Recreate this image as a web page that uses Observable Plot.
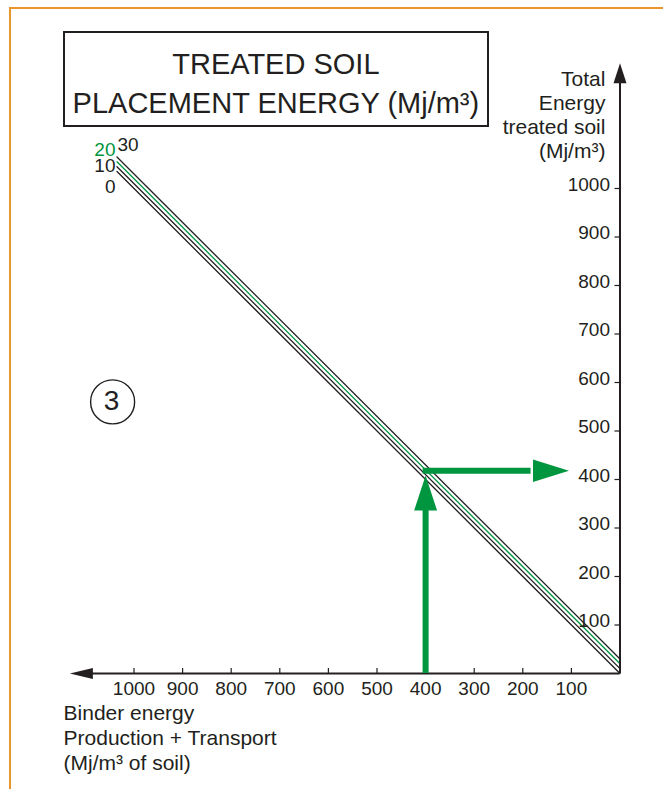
<!DOCTYPE html>
<html>
<head>
<meta charset="utf-8">
<script src="https://cdn.jsdelivr.net/npm/d3@7"></script>
<script src="https://cdn.jsdelivr.net/npm/@observablehq/plot@0.6"></script>
<style>
  html, body { margin: 0; padding: 0; background: #fff; }
  #wrap { position: relative; width: 663px; height: 789px; overflow: hidden;
          font-family: "Liberation Sans", Arial, sans-serif; color: #231f20; }
  #frame { position: absolute; left: 8.7px; top: 6.7px; width: 700px; height: 900px;
           border-top: 2.6px solid #e9962f; border-left: 2.6px solid #e9962f; }
  #title { position: absolute; left: 62.5px; top: 31px; width: 426.8px; height: 96.3px;
           box-sizing: border-box; border: 2.3px solid #231f20; padding-top: 12.2px;
           text-align: center; font-size: 29px; line-height: 39px; white-space: nowrap; background: #fff; }
  #chart { position: absolute; left: 0; top: 0; }
</style>
</head>
<body>
<div id="wrap">
  <div id="frame"></div>
  <div id="chart"></div>
  <div id="title">TREATED SOIL<br>PLACEMENT ENERGY (Mj/m³)</div>
</div>
<script>
// ---- data ----
const binderTicks = [100, 200, 300, 400, 500, 600, 700, 800, 900, 1000];
const totalTicks = [100, 200, 300, 400, 500, 600, 700, 800, 900, 1000];
const placementEnergy = [0, 10, 20, 30];          // Mj/m3 placement energy per line
const placementLabels = ["0", "10", "20", "30"];
const binderExtent = [0, 1035];                   // binder energy span of each line
const exampleBinder = 400;                        // worked example: binder energy
const exampleTotal = 418;                         // read total energy
const exampleArrowEnd = 105;                      // where the horizontal arrow ends (on the x scale)
const stepNumber = "3";
const yTitleLines = ["Total", "Energy", "treated soil", "(Mj/m³)"];
const xTitleLines = ["Binder energy", "Production + Transport", "(Mj/m³ of soil)"];

// ---- styling / layout ----
const INK = "#231f20";
const GREEN = "#00953f";
const lineColors = [INK, INK, GREEN, INK];
const labelColors = [INK, INK, GREEN, INK];
const labelLayout = [
  {anchor: "end", dx: -1.5, dy: 21},
  {anchor: "end", dx: -1.5, dy: 5.2},
  {anchor: "end", dx: -1.5, dy: -5.6},
  {anchor: "start", dx: 0.5, dy: -5.6}
];
const yAxisTip = 1258, xAxisTip = 1132;
const yTitlePos = {x: 30, y: 1062};
const xTitlePos = {x: 1145, y: -60};
const stepPos = {x: 1044, y: 560};

function arrowHead(len, half) {
  return {draw(ctx) { ctx.moveTo(0, 0); ctx.lineTo(-half, len); ctx.lineTo(half, len); ctx.closePath(); }};
}

const lineData = placementEnergy.map(c => binderExtent.map(b => ({binder: b, total: b + c})));

const marks = [
  // diagonal lines
  ...lineData.map((pts, i) => Plot.line(pts, {x: "binder", y: "total", stroke: lineColors[i], strokeWidth: 1.3})),
  // line labels
  ...placementEnergy.map((c, i) => Plot.text([c], {
    x: () => binderExtent[1], y: d => binderExtent[1] + d, text: () => placementLabels[i],
    textAnchor: labelLayout[i].anchor, lineAnchor: "bottom", dx: labelLayout[i].dx, dy: labelLayout[i].dy,
    fontSize: 19, fill: labelColors[i]
  })),
  // axes lines
  Plot.ruleX([0], {y1: 0, y2: yAxisTip - 20, stroke: INK, strokeWidth: 2}),
  Plot.ruleY([0], {x1: 0, x2: xAxisTip - 20, stroke: INK, strokeWidth: 2}),
  Plot.dot([0], {x: 0, y: yAxisTip, symbol: arrowHead(20, 6.5), r: 5, fill: INK, stroke: "none"}),
  Plot.dot([0], {x: xAxisTip, y: 0, symbol: arrowHead(23, 5.5), r: 5, rotate: -90, fill: INK, stroke: "none"}),
  // ticks
  Plot.ruleX(binderTicks, {x: d => d, y1: 0, y2: 10.3, stroke: INK, strokeWidth: 1.2}),
  Plot.ruleY(totalTicks, {y: d => d, x1: 0, x2: 10.3, stroke: INK, strokeWidth: 1.2}),
  Plot.text(binderTicks, {x: d => d, y: 0, text: d => String(d), lineAnchor: "bottom", dy: 21, fontSize: 19, fill: INK}),
  Plot.text(totalTicks, {x: 0, y: d => d, text: d => String(d), textAnchor: "end", lineAnchor: "bottom", dx: -10, dy: 2, fontSize: 19, fill: INK}),
  // axis titles
  Plot.text([yTitleLines.join("\n")], {x: yTitlePos.x, y: yTitlePos.y, text: d => d, textAnchor: "end", lineAnchor: "bottom", lineHeight: 24 / 21, fontSize: 21, fill: INK}),
  Plot.text([xTitleLines.join("\n")], {x: xTitlePos.x, y: xTitlePos.y, text: d => d, textAnchor: "start", lineAnchor: "top", lineHeight: 25 / 21, fontSize: 21, fill: INK}),
  // step marker
  Plot.dot([stepNumber], {x: stepPos.x, y: stepPos.y, r: 22, stroke: INK, strokeWidth: 1.4, fill: "none"}),
  Plot.text([stepNumber], {x: stepPos.x, y: stepPos.y, text: d => d, fontSize: 28, lineAnchor: "middle", dx: -1, dy: -1, fill: INK}),
  // worked example arrows
  Plot.ruleX([exampleBinder], {y1: 0, y2: 340, stroke: GREEN, strokeWidth: 6}),
  Plot.dot([0], {x: exampleBinder, y: 408, symbol: arrowHead(35, 11.5), r: 10, fill: GREEN, stroke: "none"}),
  Plot.ruleY([exampleTotal], {x1: exampleBinder + 5, x2: 183, stroke: GREEN, strokeWidth: 6}),
  Plot.dot([0], {x: exampleArrowEnd, y: exampleTotal, symbol: arrowHead(36, 11.3), r: 10, rotate: 90, fill: GREEN, stroke: "none"})
];

const chart = Plot.plot({
  width: 663, height: 789, margin: 0,
  style: {background: "transparent", fontFamily: "'Liberation Sans', Arial, sans-serif", color: INK, overflow: "visible"},
  x: {domain: [0, 1000], range: [619.5, 133.5], axis: null},
  y: {domain: [0, 1000], range: [673, 188], axis: null},
  marks
});
document.getElementById("chart").appendChild(chart);
</script>
</body>
</html>
